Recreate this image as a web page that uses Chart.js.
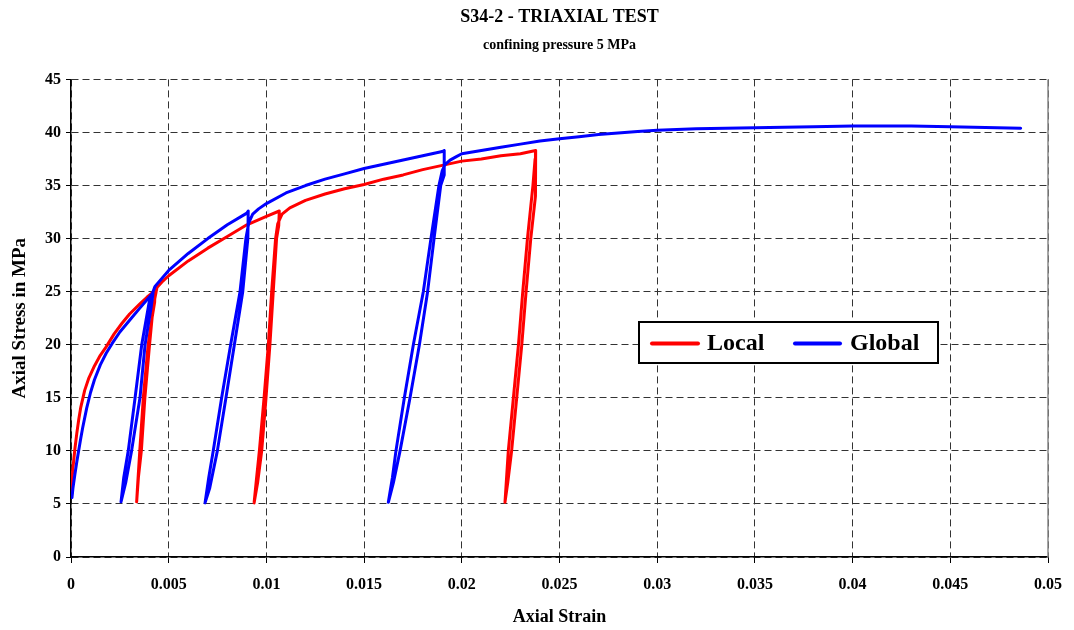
<!DOCTYPE html>
<html>
<head>
<meta charset="utf-8">
<title>S34-2 - TRIAXIAL TEST</title>
<script src="https://cdn.jsdelivr.net/npm/chart.js@4/dist/chart.umd.min.js"></script>
<style>
  html, body { margin: 0; padding: 0; background: #fff; }
  canvas { display: block; }
</style>
</head>
<body>
<canvas id="chart" width="1074" height="630"></canvas>
<script>
// Local gauge: axial strain / axial stress (MPa), three unload-reload cycles
const localStrain = [
  0, 0.00005, 0.0001, 0.0002, 0.0003, 0.0004, 0.0005, 0.0007, 0.0009, 0.0012,
  0.0015, 0.0018, 0.0022, 0.0026, 0.003, 0.0035, 0.0039, 0.0043,
  0.00428, 0.0041, 0.00395, 0.0037, 0.00352, 0.0034, 0.00336,
  0.00345, 0.0036, 0.00378, 0.00402, 0.0042, 0.0044, 0.0047, 0.005, 0.006,
  0.007, 0.008, 0.009, 0.010, 0.01066,
  0.01063, 0.01052, 0.01035, 0.01018, 0.00998, 0.00976, 0.00955, 0.00937,
  0.0095, 0.00964, 0.00988, 0.0101, 0.01027, 0.01047, 0.01058, 0.0108, 0.0112,
  0.012, 0.013, 0.014, 0.015, 0.016, 0.017, 0.018, 0.019, 0.020, 0.021, 0.022,
  0.023, 0.02378,
  0.02377, 0.02353, 0.02329, 0.02307, 0.02281, 0.02255, 0.02235, 0.02221,
  0.02238, 0.02264, 0.0229, 0.02312, 0.02336, 0.02364, 0.02375
];
const localStress = [
  6.0, 7.3, 8.4, 10.2, 11.7, 13.0, 14.1, 15.7, 16.8, 18.0,
  19.0, 19.8, 21.0, 22.0, 22.9, 23.8, 24.5, 25.1,
  24.0, 22.0, 20.0, 15.0, 10.0, 6.5, 5.2,
  7.5, 10.0, 15.0, 20.0, 23.5, 25.4, 26.0, 26.5, 27.9,
  29.1, 30.2, 31.3, 32.1, 32.6,
  31.2, 30.0, 25.0, 20.0, 15.0, 10.0, 7.0, 5.1,
  7.5, 10.0, 15.0, 20.0, 25.0, 30.0, 31.4, 32.3, 32.9,
  33.6, 34.2, 34.7, 35.1, 35.6, 36.0, 36.5, 36.9, 37.3, 37.5, 37.8,
  38.0, 38.3,
  34.0, 30.0, 25.0, 20.0, 15.0, 10.0, 7.0, 5.15,
  10.0, 15.0, 20.0, 25.0, 30.0, 35.0, 37.5
];

// Global (whole specimen) measurement
const globalStrain = [
  0.00005, 0.0001, 0.0002, 0.0003, 0.0004, 0.0005, 0.0006, 0.0008, 0.001, 0.0012,
  0.0015, 0.0018, 0.0021, 0.0025, 0.003, 0.0035, 0.0042,
  0.0041, 0.00379, 0.00353, 0.0031, 0.0028, 0.00256,
  0.0027, 0.00293, 0.00328, 0.00362, 0.0040, 0.0043, 0.005, 0.006, 0.007,
  0.008, 0.009, 0.00907,
  0.00905, 0.00879, 0.00836, 0.00793, 0.00749, 0.0071, 0.00686,
  0.00705, 0.00728, 0.00771, 0.00817, 0.00865, 0.00895, 0.0091, 0.0093, 0.0096,
  0.010, 0.011, 0.012, 0.013, 0.014, 0.015, 0.016, 0.017, 0.018, 0.019, 0.0191,
  0.0191, 0.01892, 0.01858, 0.01825, 0.01783, 0.01735, 0.01684, 0.0165, 0.01624,
  0.01645, 0.01663, 0.01706, 0.01752, 0.01803, 0.01842, 0.01883, 0.019, 0.01915,
  0.0194, 0.0197, 0.020, 0.021, 0.022, 0.023, 0.024, 0.025, 0.026, 0.027, 0.028,
  0.029, 0.030, 0.032, 0.035, 0.038, 0.040, 0.043, 0.045, 0.0486
];
const globalStress = [
  5.6, 6.5, 7.8, 9.0, 10.1, 11.2, 12.2, 14.0, 15.5, 16.7,
  18.1, 19.2, 20.1, 21.2, 22.3, 23.4, 24.9,
  23.5, 20.0, 15.0, 10.0, 7.0, 5.2,
  7.5, 10.0, 15.0, 20.0, 24.0, 25.5, 27.0, 28.6, 30.0,
  31.3, 32.4, 32.6,
  30.0, 25.0, 20.0, 15.0, 10.0, 6.5, 5.1,
  7.5, 10.0, 15.0, 20.0, 25.0, 30.0, 31.5, 32.3, 32.8,
  33.3, 34.3, 35.0, 35.6, 36.1, 36.6, 37.0, 37.4, 37.8, 38.2, 38.3,
  36.0, 35.0, 30.0, 25.0, 20.0, 15.0, 10.0, 7.0, 5.15,
  7.5, 10.0, 15.0, 20.0, 25.0, 30.0, 35.0, 36.4, 37.0,
  37.4, 37.7, 38.0, 38.3, 38.6, 38.9, 39.2, 39.4, 39.6, 39.8, 39.95,
  40.1, 40.2, 40.35, 40.45, 40.55, 40.6, 40.6, 40.55, 40.4
];

// Axis ticks
const xTickValues = [0, 0.005, 0.01, 0.015, 0.02, 0.025, 0.03, 0.035, 0.04, 0.045, 0.05];
const xTickLabels = ['0', '0.005', '0.01', '0.015', '0.02', '0.025', '0.03', '0.035', '0.04', '0.045', '0.05'];
const yTickValues = [0, 5, 10, 15, 20, 25, 30, 35, 40, 45];
const yTickLabels = ['0', '5', '10', '15', '20', '25', '30', '35', '40', '45'];

const seriesNames = ['Local', 'Global'];
const seriesColors = ['#ff0000', '#0000ff'];

const toPoints = (xs, ys) => xs.map((x, i) => ({ x: x, y: ys[i] }));

const SERIF = '"Liberation Serif", "Times New Roman", Times, serif';
Chart.defaults.font.family = SERIF;
Chart.defaults.font.weight = 'bold';
Chart.defaults.color = '#000';

// Boxed legend sitting inside the plot area
const boxedLegend = {
  id: 'boxedLegend',
  afterDatasetsDraw(chart) {
    const ctx = chart.ctx;
    const bx = 639, by = 322, bw = 299, bh = 41;
    const cy = by + bh / 2 + 1;
    const items = [
      { lineX: 652, lineW: 46, textX: 707 },
      { lineX: 795, lineW: 45, textX: 850 }
    ];
    ctx.save();
    ctx.fillStyle = '#fff';
    ctx.fillRect(bx, by, bw, bh);
    ctx.lineWidth = 2;
    ctx.strokeStyle = '#000';
    ctx.strokeRect(bx, by, bw, bh);
    ctx.font = 'bold 24px ' + SERIF;
    ctx.textBaseline = 'middle';
    ctx.textAlign = 'left';
    chart.data.datasets.forEach((ds, i) => {
      const it = items[i];
      ctx.strokeStyle = ds.borderColor;
      ctx.lineWidth = 4;
      ctx.lineCap = 'round';
      ctx.beginPath();
      ctx.moveTo(it.lineX, cy);
      ctx.lineTo(it.lineX + it.lineW, cy);
      ctx.stroke();
      ctx.fillStyle = '#000';
      ctx.fillText(ds.label, it.textX, cy);
    });
    ctx.restore();
  }
};

// Solid frame line on the right edge of the plot
const rightFrame = {
  id: 'rightFrame',
  beforeDatasetsDraw(chart) {
    const { ctx, chartArea } = chart;
    ctx.save();
    ctx.strokeStyle = '#888';
    ctx.lineWidth = 1.5;
    ctx.beginPath();
    ctx.moveTo(chartArea.right, chartArea.top);
    ctx.lineTo(chartArea.right, chartArea.bottom);
    ctx.stroke();
    ctx.restore();
  }
};

const lineStyle = {
  borderWidth: 3,
  showLine: true,
  tension: 0,
  pointRadius: 0,
  borderJoinStyle: 'round',
  borderCapStyle: 'round'
};

new Chart(document.getElementById('chart'), {
  type: 'scatter',
  data: {
    datasets: [
      Object.assign({
        label: seriesNames[0],
        data: toPoints(localStrain, localStress),
        borderColor: seriesColors[0],
        backgroundColor: seriesColors[0],
        order: 1
      }, lineStyle),
      Object.assign({
        label: seriesNames[1],
        data: toPoints(globalStrain, globalStress),
        borderColor: seriesColors[1],
        backgroundColor: seriesColors[1],
        order: 0
      }, lineStyle)
    ]
  },
  options: {
    responsive: false,
    animation: false,
    devicePixelRatio: 1,
    layout: { padding: { top: 0, left: 0, right: 26, bottom: 0 } },
    plugins: {
      legend: { display: false },
      tooltip: { enabled: false },
      title: {
        display: true,
        text: 'S34-2 - TRIAXIAL TEST',
        fullSize: false,
        color: '#000',
        font: { size: 18, weight: 'bold', family: SERIF },
        padding: { top: 7, bottom: 4 }
      },
      subtitle: {
        display: true,
        text: 'confining pressure 5 MPa',
        fullSize: false,
        color: '#000',
        font: { size: 14, weight: 'bold', family: SERIF },
        padding: { top: 4, bottom: 26 }
      }
    },
    scales: {
      x: {
        type: 'linear',
        min: 0,
        max: 0.05,
        afterFit(scale) { scale.height = 73; },
        afterBuildTicks(scale) { scale.ticks = xTickValues.map(v => ({ value: v })); },
        ticks: {
          autoSkip: false,
          maxRotation: 0,
          padding: 12,
          color: '#000',
          font: { size: 16, weight: 'bold', family: SERIF },
          callback(value, index) { return xTickLabels[index]; }
        },
        grid: {
          color: '#333',
          lineWidth: 1,
          tickLength: 6,
          tickColor: '#000',
          tickWidth: 1
        },
        border: { display: true, color: '#000', width: 1.5, dash: [7, 4] },
        title: {
          display: true,
          text: 'Axial Strain',
          color: '#000',
          font: { size: 18, weight: 'bold', family: SERIF },
          padding: { top: 0, bottom: 2 }
        }
      },
      y: {
        type: 'linear',
        min: 0,
        max: 45,
        afterFit(scale) { scale.width = 71; },
        afterBuildTicks(scale) { scale.ticks = yTickValues.map(v => ({ value: v })); },
        ticks: {
          autoSkip: false,
          padding: 5,
          color: '#000',
          font: { size: 16, weight: 'bold', family: SERIF },
          callback(value, index) { return yTickLabels[index]; }
        },
        grid: {
          color: '#333',
          lineWidth: 1,
          tickLength: 5,
          tickColor: '#000',
          tickWidth: 1
        },
        border: { display: true, color: '#000', width: 1.5, dash: [7, 4] },
        title: {
          display: true,
          text: 'Axial Stress in MPa',
          color: '#000',
          font: { size: 19, weight: 'bold', family: SERIF },
          padding: { top: 9, bottom: 0 }
        }
      }
    }
  },
  plugins: [rightFrame, boxedLegend]
});
</script>
</body>
</html>
